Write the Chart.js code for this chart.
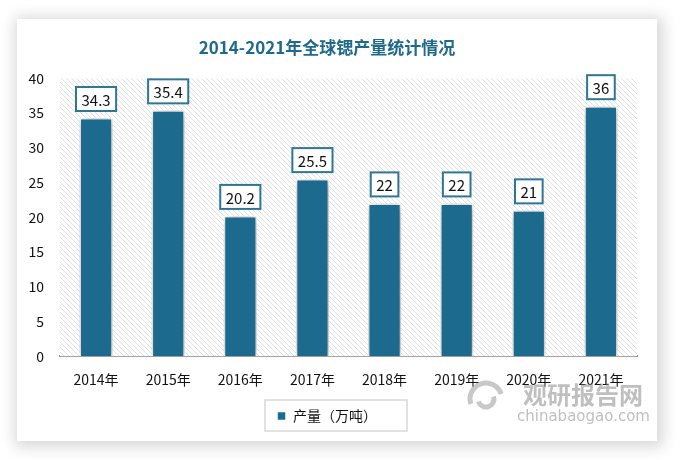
<!DOCTYPE html>
<html><head><meta charset="utf-8">
<script src="https://cdn.jsdelivr.net/npm/chart.js@4/dist/chart.umd.min.js"></script>
<style>
html,body{margin:0;padding:0;background:#fff;width:682px;height:460px;overflow:hidden;}
#card{position:absolute;left:17px;top:19px;width:640px;height:422px;background:#fff;box-shadow:2px 2px 14px 4px rgba(0,0,0,0.16);}
#c{position:absolute;left:0;top:0;}
</style></head><body>
<div id="card"><canvas id="c" width="640" height="422"></canvas></div>
<script>
const categories = ['2014年','2015年','2016年','2017年','2018年','2019年','2020年','2021年'];
const production = [34.3, 35.4, 20.2, 25.5, 22, 22, 21, 36];
const seriesName = '产量（万吨）';
const yTicks = [0,5,10,15,20,25,30,35,40];
const titleText = '2014-2021年全球锶产量统计情况';
const watermarkCN = '观研报告网';
const watermarkEN = 'chinabaogao.com';

const FONT = '"Noto Sans CJK SC","Noto Sans",sans-serif';
const BAR = '#1c6b8f';

function makePattern(ctx){
  const p = document.createElement('canvas');
  p.width = 5; p.height = 5;
  const g = p.getContext('2d');
  g.fillStyle = '#ffffff'; g.fillRect(0,0,5,5);
  g.strokeStyle = '#e0e0e0'; g.lineWidth = 1;
  g.beginPath();
  g.moveTo(-1,-1); g.lineTo(6,6);
  g.moveTo(-1,4); g.lineTo(1,6);
  g.moveTo(4,-1); g.lineTo(6,1);
  g.stroke();
  return ctx.createPattern(p,'repeat');
}

const hatchPlugin = {
  id:'hatch',
  beforeDatasetsDraw(chart){
    const {ctx, chartArea:a} = chart;
    ctx.save();
    ctx.fillStyle = makePattern(ctx);
    ctx.fillRect(a.left, a.top, a.right-a.left, a.bottom-a.top);
    ctx.restore();
  },
  beforeDatasetDraw(chart){
    const ctx = chart.ctx;
    ctx.save();
    ctx.shadowColor = 'rgba(0,0,0,0.4)';
    ctx.shadowBlur = 9;
    ctx.shadowOffsetX = 1;
    ctx.shadowOffsetY = 1;
  },
  afterDatasetDraw(chart){
    chart.ctx.restore();
  }
};

const labelPlugin = {
  id:'valueLabels',
  afterDatasetsDraw(chart){
    const ctx = chart.ctx;
    const meta = chart.getDatasetMeta(0);
    ctx.save();
    ctx.font = '15px ' + FONT;
    ctx.textAlign = 'center';
    ctx.textBaseline = 'middle';
    meta.data.forEach((bar,i)=>{
      const txt = String(production[i]);
      const w = ctx.measureText(txt).width + 11;
      const h = 24;
      const x = bar.x - w/2;
      const y = bar.y - 7 - h;
      ctx.fillStyle = '#fff';
      ctx.fillRect(x,y,w,h);
      ctx.strokeStyle = '#2f7694';
      ctx.lineWidth = 2;
      ctx.strokeRect(x,y,w,h);
      ctx.fillStyle = '#111';
      ctx.fillText(txt, bar.x, y + h/2 + 1);
    });
    ctx.restore();
  }
};

const legendBoxPlugin = {
  id:'legendBox',
  afterDraw(chart){
    const ctx = chart.ctx;
    ctx.save();
    ctx.strokeStyle = '#d9d9d9';
    ctx.lineWidth = 1.5;
    ctx.strokeRect(248, 381, 142, 31);
    ctx.restore();
    // watermark
    ctx.save();
    ctx.globalAlpha = 0.55;
    ctx.fillStyle = '#8a8a8a';
    ctx.font = 'bold 24px ' + FONT;
    ctx.textAlign = 'left';
    ctx.textBaseline = 'middle';
    ctx.fillText(watermarkCN, 506, 376);
    ctx.font = '15px "DejaVu Sans",sans-serif';
    ctx.fillText(watermarkEN, 500, 398);
    ctx.strokeStyle = '#9a9a9a';
    ctx.lineWidth = 5;
    ctx.beginPath();
    ctx.arc(469, 380, 16, Math.PI*0.9, Math.PI*1.9);
    ctx.stroke();
    ctx.beginPath();
    ctx.arc(469, 380, 8, Math.PI*1.9, Math.PI*0.9);
    ctx.stroke();
    ctx.restore();
  }
};

new Chart(document.getElementById('c'), {
  type:'bar',
  data:{
    labels: categories,
    datasets:[{
      label: seriesName,
      data: production,
      backgroundColor: BAR,
      borderColor: '#ffffff',
      borderWidth: 1.5,
      borderSkipped: 'bottom',
      barPercentage: 0.46,
      categoryPercentage: 1.0
    }]
  },
  options:{
    responsive:false,
    animation:false,
    layout:{padding:{left:0,right:20,top:0,bottom:8}},
    plugins:{
      title:{
        display:true,
        text: titleText,
        color:'#1d6a8d',
        font:{family:FONT, size:17, weight:'bold'},
        padding:{top:18, bottom:21}
      },
      legend:{
        display:true,
        position:'bottom',
        labels:{
          boxWidth:9, boxHeight:9, color:'#111',
          font:{family:FONT, size:14},
          padding:8
        }
      },
      tooltip:{enabled:false}
    },
    scales:{
      x:{
        grid:{display:false, drawTicks:false},
        border:{display:true, color:'#8c8c8c', width:2},
        ticks:{color:'#111', font:{family:FONT, size:14}, padding:15},
        afterFit(scale){ scale.height -= 2; }
      },
      y:{
        min:0, max:40,
        afterBuildTicks(scale){ scale.ticks = yTicks.map(v=>({value:v})); },
        afterFit(scale){ scale.width = 43; },
        grid:{display:false, drawTicks:false},
        border:{display:false},
        ticks:{color:'#111', font:{family:FONT, size:14}, padding:16}
      }
    }
  },
  plugins:[hatchPlugin, labelPlugin, legendBoxPlugin]
});
</script>
</body></html>
